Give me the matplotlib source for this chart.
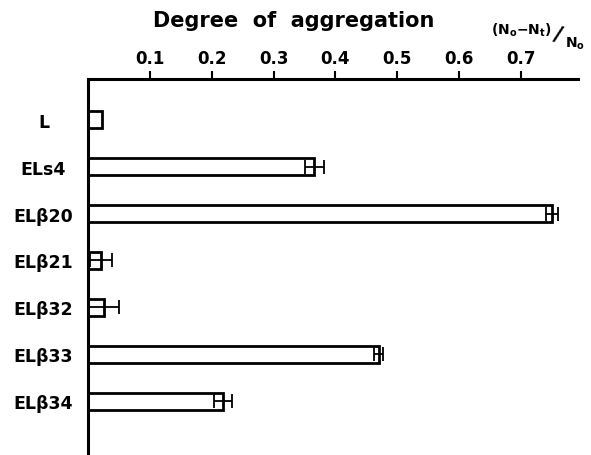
import matplotlib
matplotlib.use("Agg")
import matplotlib.pyplot as plt
import numpy as np

plt.rcParams['font.family'] = ['DejaVu Sans']
plt.rcParams['font.weight'] = 'bold'
plt.rcParams['mathtext.fontset'] = 'dejavusans'

# Data
labels = ['L', 'ELs4', 'ELβ20', 'ELβ21', 'ELβ32', 'ELβ33', 'ELβ34']
values = [0.023, 0.366, 0.750, 0.021, 0.026, 0.470, 0.218]
errors = [0.0, 0.015, 0.010, 0.017, 0.024, 0.007, 0.015]
xticks = [0.1, 0.2, 0.3, 0.4, 0.5, 0.6, 0.7]

W, H = 591, 456
fig = plt.figure(figsize=(W / 100, H / 100), dpi=100)
ax = fig.add_axes([88 / W, 0, (578 - 88) / W, 1 - 80 / H])

pos = np.arange(len(labels))
ax.barh(pos, values, height=0.36, color='white', edgecolor='black', linewidth=2)

# L has no visible error bar
mask = [e > 0 for e in errors]
ax.errorbar(np.array(values)[mask], pos[mask], xerr=np.array(errors)[mask],
            fmt='none', ecolor='black', elinewidth=1.3, capsize=5, capthick=1.3)

ax.set_xlim(0, 0.792)
ax.set_ylim(7.15, -0.87)

# axis on top, only top and left spines
for side in ['right', 'bottom']:
    ax.spines[side].set_visible(False)
for side in ['top', 'left']:
    ax.spines[side].set_linewidth(2.2)

ax.xaxis.tick_top()
ax.set_xticks(xticks)
ax.set_xticklabels([f"{t:.1f}" for t in xticks], fontsize=12, fontweight='bold')
ax.tick_params(axis='x', direction='out', length=6, width=1.5, pad=3)

ax.set_yticks(pos)
ax.set_yticklabels(labels, fontsize=12.5, fontweight='bold', ha='center')
ax.tick_params(axis='y', length=0, pad=32)

# title and unit
fig.text(294 / W, 1 - 21 / H, 'Degree  of  aggregation', ha='center', va='center',
         fontsize=15, fontweight='bold')
fig.text(491 / W, 1 - 30 / H, r'$\mathbf{(N_o{-}N_t)}$', ha='left', va='center',
         fontsize=10)
fig.text(558 / W, 1 - 35 / H, '/', ha='center', va='center', fontsize=16,
         fontweight='bold', rotation=-15)
fig.text(565 / W, 1 - 44 / H, r'$\mathbf{N_o}$', ha='left', va='center',
         fontsize=10)

fig.savefig('out.png', dpi=100)
